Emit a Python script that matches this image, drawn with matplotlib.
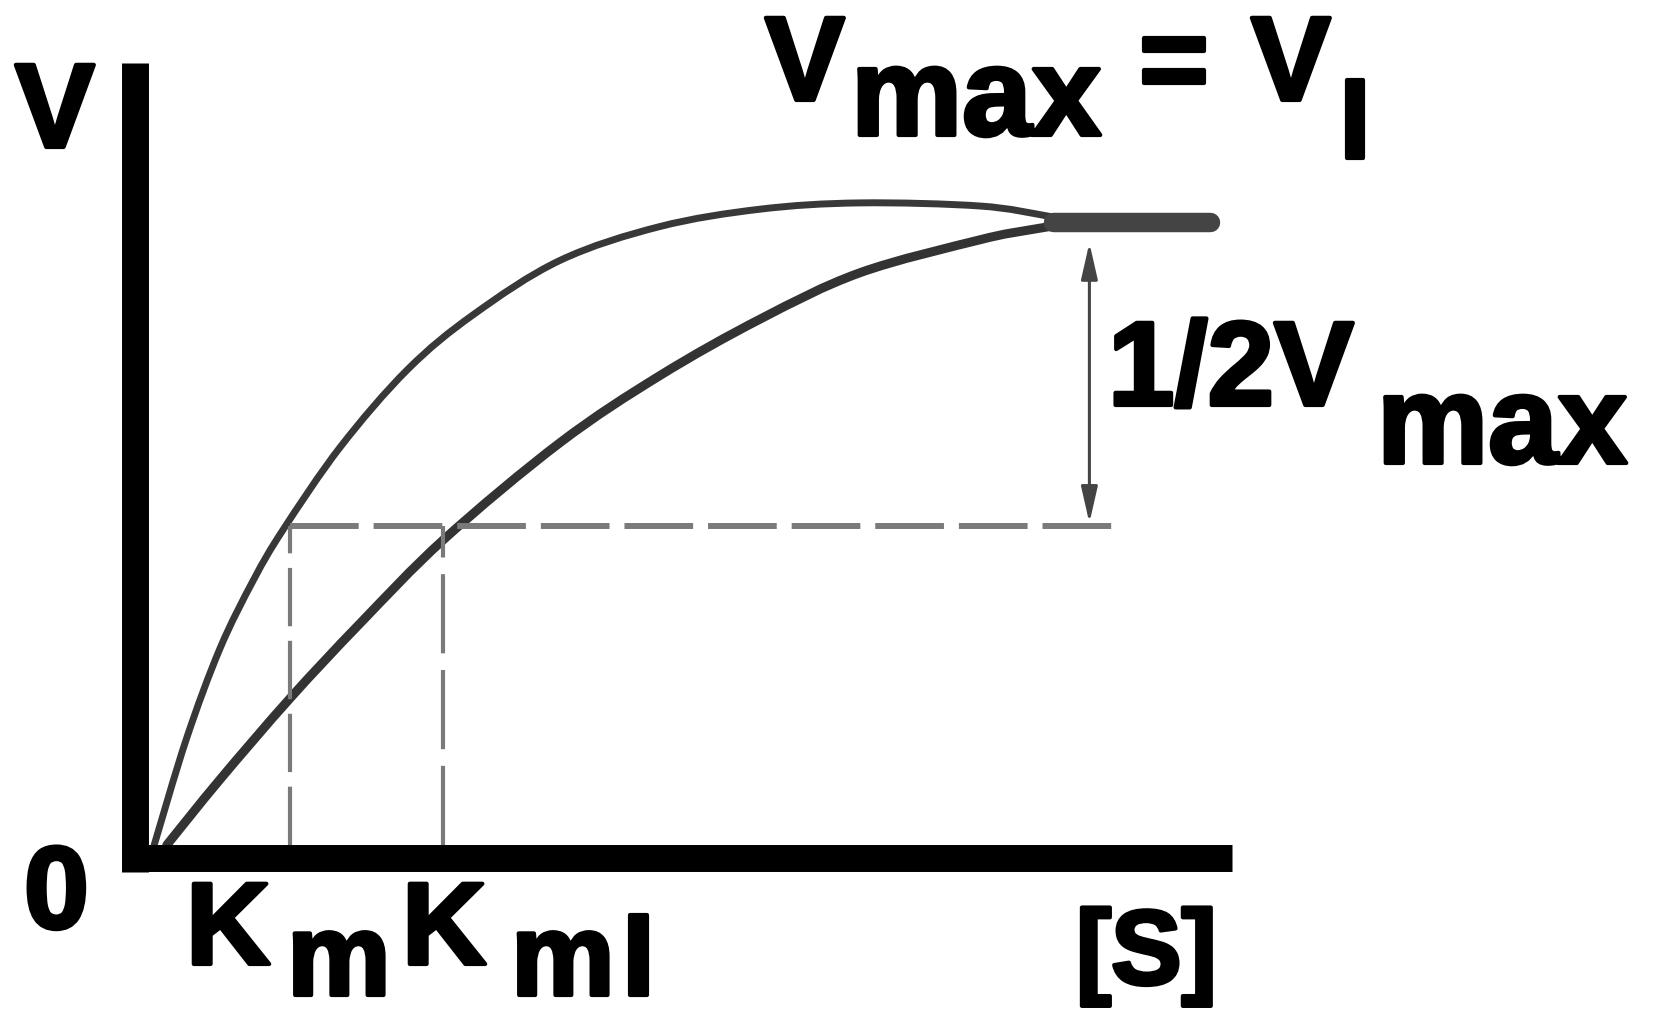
import matplotlib.pyplot as plt
import matplotlib.patheffects as pe
from matplotlib.path import Path
from matplotlib.patches import PathPatch

# Michaelis-Menten sketch: normal vs competitive inhibition
# x in units of Km, y in units of Vmax
s_normal = [0.03, 0.26, 0.5, 0.74, 0.95, 1.36, 1.84, 2.31, 2.93,
            3.64, 4.36, 5.07, 5.93, 6.41, 6.62]
v_normal = [0.0, 0.170, 0.315, 0.425, 0.505, 0.638, 0.762, 0.850, 0.937,
            0.991, 1.019, 1.029, 1.024, 1.008, 0.998]

s_inhib = [0.12, 0.5, 1.0, 1.5, 2.1, 2.93, 3.64, 4.36, 5.07, 5.93, 6.29, 6.62]
v_inhib = [0.0, 0.105, 0.235, 0.355, 0.490, 0.645, 0.752, 0.843, 0.917,
           0.970, 0.986, 0.998]

s_plateau = [6.45, 7.57]
v_plateau = [0.998, 0.998]

km = 1.0
km_i = 2.09
v_half = 0.511
s_half_end = 6.93
s_arrow = 6.71
v_arrow = [0.516, 0.965]

W, H = 1662, 1019
fig = plt.figure(figsize=(W / 100, H / 100), dpi=100)
ax = fig.add_axes([0, 0, 1, 1])

# pixel scale: origin at (150, 845), 140 px per Km, 624 px per Vmax
ax.set_xlim(-150 / 140, (W - 150) / 140)
ax.set_ylim((845 - H) / 624, 845 / 624)
ax.set_xticks([])
ax.set_yticks([])
ax.set_facecolor('white')

for side in ['top', 'right']:
    ax.spines[side].set_visible(False)
ax.spines['left'].set_position(('data', -0.104))
ax.spines['left'].set_bounds(-0.043, 1.253)
ax.spines['bottom'].set_position(('data', -0.0216))
ax.spines['bottom'].set_bounds(-0.2, 7.73)
for side in ['left', 'bottom']:
    ax.spines[side].set_linewidth(19.4)
    ax.spines[side].set_color('black')
    ax.spines[side].set_capstyle('butt')


def smooth_path(xs, ys):
    # bezier path through the read points (Catmull-Rom style handles)
    pts = list(zip(xs, ys))
    n = len(pts)
    verts = [pts[0]]
    codes = [Path.MOVETO]
    for i in range(n - 1):
        p0 = pts[max(i - 1, 0)]
        p1 = pts[i]
        p2 = pts[i + 1]
        p3 = pts[min(i + 2, n - 1)]
        c1 = (p1[0] + (p2[0] - p0[0]) / 6, p1[1] + (p2[1] - p0[1]) / 6)
        c2 = (p2[0] - (p3[0] - p1[0]) / 6, p2[1] - (p3[1] - p1[1]) / 6)
        verts += [c1, c2, p2]
        codes += [Path.CURVE4] * 3
    return Path(verts, codes)


# dashed guides
ax.plot([km, s_half_end], [v_half, v_half], color='#7a7a7a', lw=4.3,
        dashes=(11.5, 2.5))
ax.plot([km, km], [0, v_half], color='#7a7a7a', lw=3.0, dashes=(14, 3.5))
ax.plot([km_i, km_i], [0, v_half], color='#7a7a7a', lw=3.0, dashes=(19, 4))

# curves
ax.add_patch(PathPatch(smooth_path(s_normal, v_normal), fill=False,
                       edgecolor='#383838', lw=5, capstyle='round'))
ax.add_patch(PathPatch(smooth_path(s_inhib, v_inhib), fill=False,
                       edgecolor='#333333', lw=6.5, capstyle='round'))
ax.plot(s_plateau, v_plateau, color='#444444', lw=14, solid_capstyle='round')

# 1/2 Vmax double arrow
ax.annotate('', xy=(s_arrow, v_arrow[1]), xytext=(s_arrow, v_arrow[0]),
            arrowprops=dict(arrowstyle='<|-|>,head_length=1.1,head_width=0.25',
                            mutation_scale=20, color='#444444', lw=2.2,
                            shrinkA=0, shrinkB=0))

font = dict(family='Liberation Sans', weight='bold', color='black')
heavy = [pe.withStroke(linewidth=3, foreground='black')]


def label(x, y, txt, size=86):
    t = fig.text(x / W, 1 - y / H, txt, ha='left', va='baseline',
                 fontsize=size, **font)
    t.set_path_effects(heavy)


label(15, 147, 'V')
label(765, 100, 'V')
label(851, 135, 'max', 90)
label(1139, 100, '=')
label(1251, 100, 'V')
label(1339, 158, 'I', 82)
label(1108, 405, '1/2V')
label(1377, 463, 'max', 90)
label(24, 928, '0', 84)
label(186, 964, 'K', 84)
label(287, 995, 'm', 84)
label(402, 964, 'K', 84)
label(511, 995, 'm', 84)
label(622, 995, 'I', 84)
label(1076, 984, '[S]', 76)

fig.savefig('out.png', dpi=100, facecolor='white')
